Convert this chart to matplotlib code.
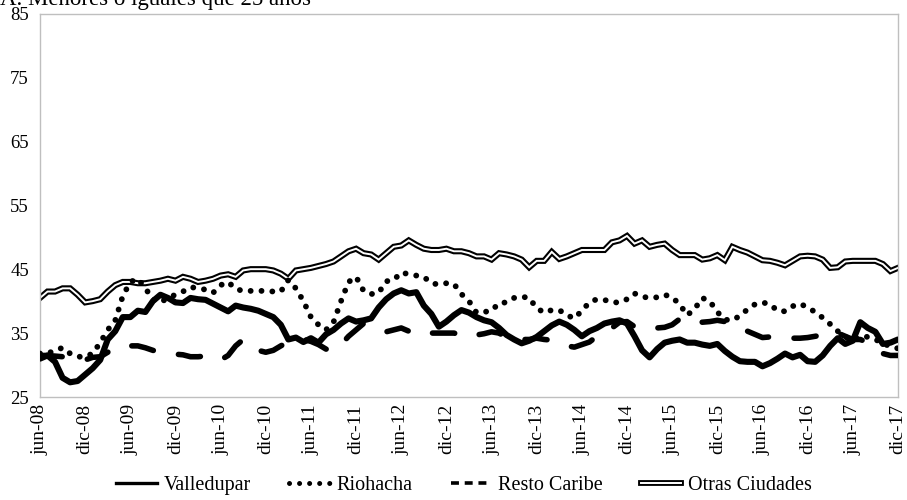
import numpy as np
import matplotlib
matplotlib.use("Agg")
import matplotlib.pyplot as plt
from matplotlib.lines import Line2D

plt.rcParams["font.family"] = ["Liberation Serif", "DejaVu Serif"]

# meses jun-08 .. dic-17
MESES = ["ene", "feb", "mar", "abr", "may", "jun", "jul", "ago", "sep", "oct", "nov", "dic"]
PERIODOS = [f"{MESES[m]}-{y % 100:02d}" for y in range(2008, 2018) for m in range(12)
            if not (y == 2008 and m < 5)]

valledupar = [31, 31.5, 30.5, 28, 27.3, 27.5, 28.5, 29.5, 30.8, 34, 35.3, 37.5,
              37.5, 38.5, 38.3, 40, 41, 40.5, 39.8, 39.7, 40.5, 40.3, 40.2, 39.6,
              39, 38.4, 39.3, 39, 38.8, 38.5, 38, 37.5, 36.3, 34, 34.3, 33.6,
              34.2, 33.5, 34.8, 35.5, 36.5, 37.3, 36.8, 37, 37.3, 39, 40.3, 41.2,
              41.7, 41.2, 41.4, 39.3, 38, 36, 36.8, 37.8, 38.6, 38.2, 37.5, 37,
              36.7, 35.8, 34.7, 34, 33.4, 33.8, 34.4, 35.3, 36.2, 36.8, 36.3, 35.5,
              34.5, 35.3, 35.8, 36.5, 36.8, 37, 36.5, 34.5, 32.3, 31.2, 32.5, 33.5,
              33.8, 34, 33.5, 33.5, 33.2, 33, 33.3, 32.2, 31.3, 30.6, 30.5, 30.5,
              29.8, 30.3, 31, 31.8, 31.2, 31.6, 30.6, 30.5, 31.5, 33, 34.2, 33.3,
              33.8, 36.7, 35.8, 35.2, 33.3, 33.5, 34]

riohacha = [31.8, 31.8, 32.3, 32.7, 31.8, 31.3, 31.3, 31.8, 33.5, 35.5, 37, 40.8,
            43, 43.5, 42, 40.3, 39.8, 40.5, 41, 41.5, 42.2, 42, 41.8, 41.3,
            42.5, 43, 41.9, 41.6, 41.6, 41.6, 41.6, 41.5, 41.5, 43.3, 42, 40,
            37.5, 36.3, 35.5, 36.7, 40, 43, 43.8, 41.6, 41.1, 41.3, 43.1, 43.3,
            44.5, 44.2, 44, 43.8, 42.8, 42.6, 42.8, 42.7, 41.1, 40, 38.2, 38.3,
            38.5, 39.7, 39.8, 40.5, 40.7, 40.5, 38.9, 38.2, 38.6, 38.6, 37.8, 37.3,
            38.5, 39.8, 40.3, 40.2, 39.8, 39.8, 40.3, 41.2, 40.7, 40.5, 40.6, 41,
            40.6, 39.5, 37.8, 38.8, 40.5, 40, 38.3, 37.1, 37, 37.7, 38.7, 39.5,
            39.8, 39.5, 38.5, 38.4, 39.2, 39.6, 39, 38.3, 37.4, 36.4, 35.3, 34.4,
            33.9, 34.5, 34.4, 34, 33.4, 32.9, 32.6]

resto_caribe = [31.5, 31.5, 31.4, 31.3, 31, 30.8, 30.8, 31.2, 31.3, 32, 32.8, 33,
                33, 33, 32.7, 32.3, 32, 31.7, 31.7, 31.6, 31.3, 31.3, 31.4, 31.2,
                30.8, 31.5, 33, 34, 33.3, 32.3, 32, 32.3, 33, 33.6, 34, 34,
                33.7, 33.2, 32.5, 32.2, 33.2, 34.5, 35.5, 36.5, 36, 35.6, 35.2, 35.5,
                35.8, 35.3, 35.7, 35.5, 35, 35, 35, 35, 34.7, 34.3, 34.7, 34.9,
                35.2, 35, 34.3, 34, 34, 34, 34.2, 34, 33.9, 33.5, 33, 32.8,
                33.2, 33.6, 34.5, 35.3, 35.8, 36.7, 36.8, 36, 35.6, 35.7, 35.8, 35.9,
                36.3, 37.2, 37.5, 37, 36.7, 36.8, 37, 36.8, 36.2, 35.6, 35.3, 34.8,
                34.3, 34.4, 34.4, 34.3, 34.2, 34.2, 34.3, 34.5, 34.7, 35, 35, 34.5,
                34, 34, 33.5, 32.8, 31.8, 31.5, 31.5]

otras_ciudades = [40.5, 41.5, 41.5, 42, 42, 41, 39.8, 40, 40.3, 41.5, 42.5, 43,
                  43, 42.8, 42.8, 43, 43.2, 43.5, 43.2, 43.8, 43.5, 43, 43.2, 43.5,
                  44, 44.2, 43.8, 44.8, 45, 45, 45, 44.8, 44.3, 43.5, 44.8, 45,
                  45.2, 45.5, 45.8, 46.2, 47, 47.8, 48.2, 47.5, 47.3, 46.5, 47.5, 48.5,
                  48.7, 49.5, 48.8, 48.2, 48, 48, 48.2, 47.8, 47.8, 47.5, 47, 47,
                  46.5, 47.5, 47.3, 47, 46.5, 45.3, 46.3, 46.3, 47.7, 46.6, 47, 47.5,
                  48, 48, 48, 48, 49.2, 49.5, 50.2, 49, 49.5, 48.5, 48.8, 49,
                  48, 47.2, 47.2, 47.2, 46.5, 46.7, 47.2, 46.4, 48.5, 48, 47.6, 47,
                  46.4, 46.3, 46, 45.6, 46.3, 47, 47.1, 47, 46.5, 45.2, 45.3, 46.2,
                  46.3, 46.3, 46.3, 46.3, 45.8, 44.7, 45.2]

Y_TICKS = [25, 35, 45, 55, 65, 75, 85]

x = np.arange(len(PERIODOS))
fig = plt.figure(figsize=(9.07, 5.0), dpi=100)
ax = fig.add_axes([0.0441, 0.206, 0.9459, 0.767])

# Otras ciudades: doble linea
ax.plot(x, otras_ciudades, color="black", lw=4.4, solid_joinstyle="miter", zorder=2)
ax.plot(x, otras_ciudades, color="white", lw=1.4, solid_joinstyle="miter", zorder=2.1)
ax.plot(x, resto_caribe, color="black", lw=4.0, dashes=(4.0, 4.6),
        dash_capstyle="round", zorder=3)
ax.plot(x, riohacha, color="black", lw=4.2, dashes=(0.01, 1.85),
        dash_capstyle="round", zorder=3)
ax.plot(x, valledupar, color="black", lw=4.4, solid_joinstyle="round",
        solid_capstyle="round", zorder=4)

ax.set_xlim(0, len(x) - 1)
ax.set_ylim(25, 85)
ax.set_yticks(Y_TICKS)
ax.set_xticks(x[::6])
ax.set_xticklabels(PERIODOS[::6], rotation=90)
ax.tick_params(axis="both", length=0)
ax.tick_params(axis="x", pad=5, labelsize=14)
ax.tick_params(axis="y", pad=8, labelsize=13.5)
for s in ax.spines.values():
    s.set_color("#bfbfbf")
    s.set_linewidth(1.0)

# titulo recortado en el borde superior, como en el original
fig.text(0.0, 0.989, "A. Menores o iguales que 25 años", fontsize=16.5,
         ha="left", va="baseline")

handles = [
    Line2D([], [], color="black", lw=2.4),
    Line2D([], [], color="black", lw=3.6, dashes=(0.01, 2.0), dash_capstyle="round"),
    Line2D([], [], color="black", lw=2.6, dashes=(2.2, 1.6)),
    (Line2D([], [], color="black", lw=4.2), Line2D([], [], color="white", lw=1.4)),
]
fig.legend(handles, ["Valledupar", "Riohacha", "Resto Caribe", "Otras Ciudades"],
           loc="center", bbox_to_anchor=(0.512, 0.03), ncol=4, frameon=False,
           fontsize=14.5, handlelength=2.0, handletextpad=0.35, columnspacing=1.9)

fig.savefig("out.png", dpi=100)
